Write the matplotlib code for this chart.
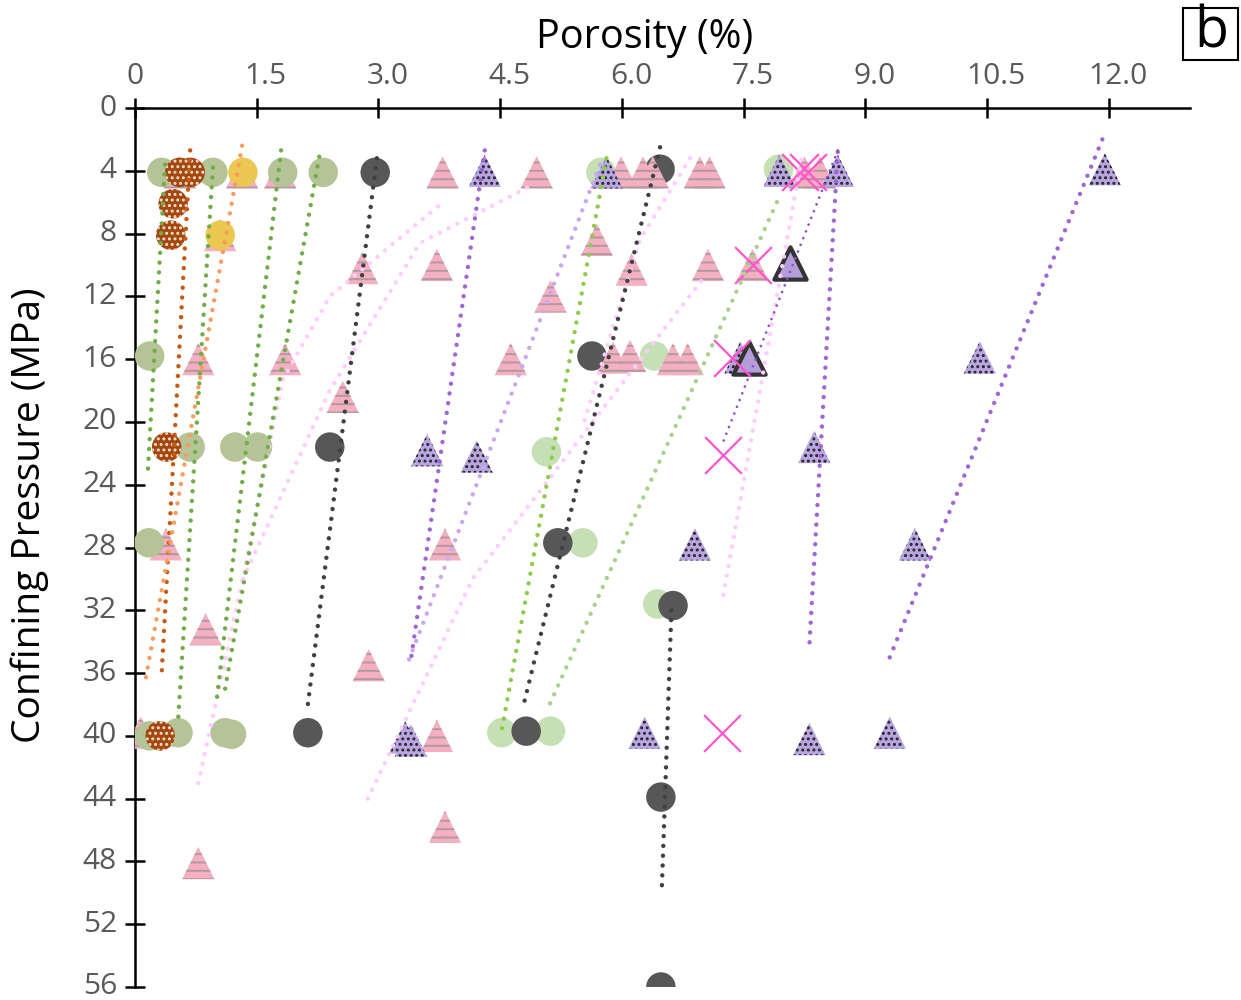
import matplotlib
matplotlib.use("Agg")
import matplotlib.pyplot as plt
import matplotlib.transforms as mtransforms
from matplotlib.patches import Rectangle

plt.rcParams['font.family'] = ['Open Sans', 'DejaVu Sans']
plt.rcParams['hatch.linewidth'] = 1.4

# ---------------- data (porosity %, confining pressure MPa) ----------------
olive_x = [0.33, 0.96, 1.82, 2.32, 0.18, 0.68, 1.23, 1.51, 0.17, 0.18, 0.53, 1.11, 1.19]
olive_y = [4.1, 4.1, 4.1, 4.1, 15.8, 21.6, 21.6, 21.6, 27.7, 40.0, 39.8, 39.8, 39.9]

brown_x = [0.55, 0.68, 0.47, 0.44, 0.39, 0.31]
brown_y = [4.1, 4.1, 6.1, 8.1, 21.6, 40.0]

yellow_x = [1.33, 1.05]
yellow_y = [4.1, 8.1]

gray_x = [2.96, 2.40, 2.13, 5.63, 5.21, 4.82, 6.47, 6.63, 6.48, 6.48]
gray_y = [4.1, 21.6, 39.8, 15.8, 27.7, 39.7, 3.9, 31.7, 43.9, 56.0]

pink_x = [0.55, 1.32, 1.79, 3.79, 4.95, 5.99, 6.26, 6.38, 6.96, 7.08, 8.25, 8.44,
          1.05, 5.69, 2.80, 3.72, 6.12, 7.06, 7.61, 5.12,
          0.78, 1.85, 4.63, 5.89, 6.10, 6.63, 6.81, 2.56,
          0.38, 3.82, 0.87, 2.88, 0.07, 3.72, 3.82, 0.78]
pink_y = [4.1, 4.1, 4.1, 4.1, 4.1, 4.1, 4.1, 4.1, 4.1, 4.1, 4.1, 4.1,
          8.1, 8.4, 10.2, 10.0, 10.3, 10.0, 10.0, 12.0,
          16.0, 16.0, 16.0, 15.9, 15.8, 16.0, 16.0, 18.4,
          27.8, 27.8, 33.2, 35.5, 39.8, 40.0, 45.8, 48.1]

purple_x = [4.31, 5.81, 7.94, 8.66, 11.95, 7.46, 10.41, 3.60, 4.21, 8.37,
            6.90, 9.61, 3.33, 3.40, 6.28, 8.31, 9.30]
purple_y = [4.0, 4.1, 4.0, 4.0, 3.9, 15.9, 15.9, 21.8, 22.2, 21.6,
            27.8, 27.8, 40.1, 40.3, 39.8, 40.2, 39.8]

outlined_x = [8.07, 7.57]
outlined_y = [9.9, 15.9]

cross_x = [8.19, 8.29, 7.61, 7.36, 7.25, 7.23]
cross_y = [4.1, 4.1, 10.0, 15.9, 22.1, 39.8]

lgreen_x = [5.74, 7.93, 6.40, 5.07, 5.52, 6.44, 4.52, 5.12]
lgreen_y = [4.1, 3.9, 15.8, 21.9, 27.7, 31.6, 39.8, 39.7]

# trend lines: (x values, y values)
trend_green = [([0.37, 0.16], [3.6, 23.0]),
               ([0.96, 0.53], [3.8, 39.1]),
               ([1.80, 1.00], [2.7, 38.0]),
               ([2.27, 1.11], [3.1, 37.0])]
trend_brown = [([0.68, 0.33], [2.7, 35.9])]
trend_orange = [([1.32, 0.12], [2.4, 36.7])]
trend_gray = [([2.98, 2.13], [3.2, 38.0]),
              ([6.47, 4.78], [2.5, 38.2]),
              ([6.61, 6.49], [32.0, 50.0])]
trend_purple = [([4.31, 3.39], [2.7, 35.5]),
                ([8.66, 8.31], [2.8, 34.2]),
                ([11.92, 9.30], [2.0, 35.0])]
trend_lpurple = [([5.73, 3.35], [3.6, 35.5])]
trend_thinpurple = [([8.66, 7.23], [2.7, 21.5])]
trend_bgreen = [([5.81, 4.52], [3.2, 39.6])]
trend_lgreen = [([7.91, 5.10], [6.0, 38.1])]
trend_pink = [([8.21, 7.23], [3.3, 31.6]),
              ([0.78, 1.33, 1.82, 2.40, 3.75], [43.0, 30.0, 17.3, 12.0, 6.2]),
              ([2.87, 4.16, 6.01, 7.04], [44.0, 30.0, 17.5, 10.6]),
              ([5.54, 6.22, 6.90], [19.9, 8.4, 2.7]),
              ([1.33, 2.40, 3.51, 4.90], [30.0, 18.0, 8.6, 4.9])]

xticks = [0, 1.5, 3.0, 4.5, 6.0, 7.5, 9.0, 10.5, 12.0]
xticklabels = ["0", "1.5", "3.0", "4.5", "6.0", "7.5", "9.0", "10.5", "12.0"]
yticks = list(range(0, 57, 4))

# ---------------- figure ----------------
fig = plt.figure(figsize=(12.41, 10.0), dpi=100)
ax = fig.add_axes([135/1241, 1-987/1000, (1190-135)/1241, (987-108)/1000])
ax.set_xlim(0, 13)
ax.set_ylim(56, 0)

S_C = 450   # circle size
S_T = 540   # triangle size

ax.scatter(lgreen_x, lgreen_y, s=S_C, marker='o', color='#c5e0b4', edgecolors='none', zorder=2)
ax.scatter(gray_x, gray_y, s=S_C, marker='o', color='#575757', edgecolors='none', zorder=3)
# pink triangles with grey dash hatch
ax.scatter(pink_x, pink_y, s=S_T, marker='^', color='#f4b0c0', edgecolors='none', zorder=4)
ax.scatter(pink_x, pink_y, s=S_T, marker='^', facecolors='none', edgecolors='#b09aa0',
           linewidths=0, hatch='--', zorder=4.1)
ax.scatter(olive_x, olive_y, s=S_C, marker='o', color='#b4c496', edgecolors='none', zorder=5)
ax.scatter(yellow_x, yellow_y, s=S_C, marker='o', color='#ecc751', edgecolors='none', zorder=6)
ax.scatter(brown_x, brown_y, s=S_C, marker='o', facecolors='#a3470e', edgecolors='#f3e0d0',
           linewidths=0, hatch='...', zorder=7)
ax.scatter(purple_x, purple_y, s=S_T, marker='^', facecolors='#b9a5e2', edgecolors='#262626',
           linewidths=0, hatch='...', zorder=8)
ax.scatter(outlined_x, outlined_y, s=S_T, marker='^', facecolors='#b49ed8', edgecolors='#333333',
           linewidths=3, zorder=9)
ax.scatter(cross_x, cross_y, s=700, marker='x', color='#ff55cc', linewidths=1.6, zorder=10)

def dotted(lines, color, lw=3.2, gap=2.2):
    for xs, ys in lines:
        ax.plot(xs, ys, color=color, lw=lw, linestyle=(0, (0.01, gap)),
                dash_capstyle='round', zorder=11)

dotted(trend_pink, '#ffccff')
dotted(trend_green, '#70ad47')
dotted(trend_brown, '#c55a11')
dotted(trend_orange, '#f79c5c')
dotted(trend_gray, '#404040')
dotted(trend_purple, '#a066d6')
dotted(trend_lpurple, '#cba8ee')
dotted(trend_thinpurple, '#8a55cc', lw=2.0, gap=2.6)
dotted(trend_bgreen, '#8dcc4a')
dotted(trend_lgreen, '#a9d18e')

# axes styling
for s in ['right', 'bottom']:
    ax.spines[s].set_visible(False)
for s in ['left', 'top']:
    ax.spines[s].set_linewidth(1.8)
    ax.spines[s].set_color('black')
ax.xaxis.tick_top()
ax.set_xticks(xticks)
ax.set_xticklabels(xticklabels)
ax.set_yticks(yticks)
ax.set_yticklabels([str(v) for v in yticks], va='center')
ax.tick_params(axis='both', direction='inout', length=14, width=1.8, colors='black',
               labelcolor='#595959', labelsize=21.5)
ax.tick_params(axis='x', pad=5)
ax.tick_params(axis='y', pad=6)
shift = mtransforms.ScaledTranslation(9/100, 0, fig.dpi_scale_trans)
for i, lab in enumerate(ax.get_xticklabels()):
    if i > 0:
        lab.set_transform(lab.get_transform() + shift)

fig.text(645/1241, 1-38/1000, 'Porosity (%)', ha='center', va='center', fontsize=28.5)
fig.text(30/1241, 1-515/1000, 'Confining Pressure (MPa)', ha='center', va='center',
         fontsize=28, rotation=90)
fig.patches.append(Rectangle((1183/1241, 1-60/1000), 55/1241, 52/1000, transform=fig.transFigure,
                             facecolor='white', edgecolor='black', lw=1.5))
fig.text(1211/1241, 1-33/1000, 'b', ha='center', va='center', fontsize=40)

fig.savefig('out.png', dpi=100)
